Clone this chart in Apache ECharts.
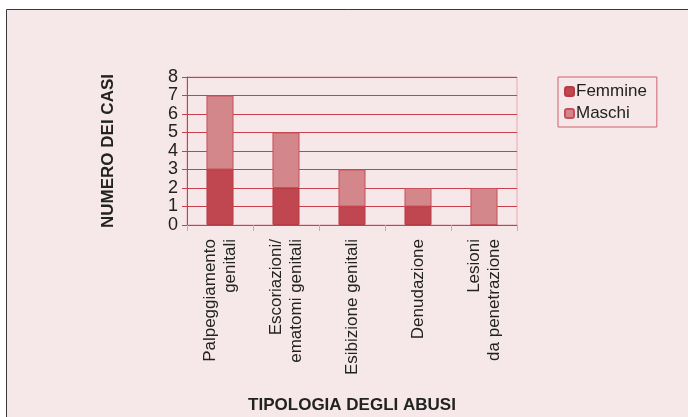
<!DOCTYPE html>
<html>
<head>
<meta charset="utf-8">
<script src="https://cdn.jsdelivr.net/npm/echarts@6/dist/echarts.min.js"></script>
<style>
  body { margin: 0; background: #fff; }
  #main { width: 688px; height: 417px; }
</style>
</head>
<body>
<div id="main"></div>
<script>
// categorie e valori
var categorie = [
  "Palpeggiamento\ngenitali",
  "Escoriazioni/\nematomi genitali",
  "Esibizione genitali",
  "Denudazione",
  "Lesioni\nda penetrazione"
];
var femmine = [3, 2, 1, 1, 0];
var maschi = [4, 3, 2, 1, 2];
var yTicks = { min: 0, max: 8, interval: 1 };

var chart = echarts.init(document.getElementById("main"));

var font = "Liberation Sans, Arial, sans-serif";
var option = {
  backgroundColor: "#fff",
  textStyle: { fontFamily: font },
  graphic: [
    {
      // riquadro rosa con bordo scuro
      type: "rect",
      shape: { x: 6.5, y: 9.5, width: 690, height: 420 },
      style: { fill: "#f6e8e9", stroke: "#3a3a3a", lineWidth: 1 },
      z: -10
    }
  ],
  grid: {
    left: 187, right: 171, top: 77, bottom: 192,
    show: true,
    backgroundColor: "transparent",
    borderColor: "#e8a8b0",
    borderWidth: 1
  },
  legend: {
    orient: "vertical",
    left: 558,
    top: 77,
    width: 105,
    padding: [6, 10, 5, 6],
    itemGap: 5,
    itemWidth: 9,
    itemHeight: 9,
    borderColor: "#d0606a",
    borderWidth: 1,
    textStyle: { fontSize: 17, color: "#222", fontFamily: font, padding: [0, 0, 0, -3] },
    data: ["Femmine", "Maschi"]
  },
  xAxis: {
    type: "category",
    data: categorie,
    name: "TIPOLOGIA DEGLI ABUSI",
    nameLocation: "middle",
    nameGap: 172,
    nameTextStyle: { fontSize: 17, fontWeight: "bold", color: "#222", fontFamily: font },
    axisLine: { lineStyle: { color: "#c8404c", width: 1 } },
    axisTick: { show: true, length: 6, lineStyle: { color: "#e0a0a8" } },
    axisLabel: {
      rotate: 90,
      interval: 0,
      margin: 14,
      fontSize: 17,
      lineHeight: 20,
      color: "#222",
      fontFamily: font
    }
  },
  yAxis: {
    type: "value",
    min: yTicks.min,
    max: yTicks.max,
    interval: yTicks.interval,
    name: "NUMERO DEI CASI",
    nameLocation: "middle",
    nameGap: 70,
    nameTextStyle: { fontSize: 17, fontWeight: "bold", color: "#222", fontFamily: font },
    axisLine: { show: true, lineStyle: { color: "#c8404c", width: 1 } },
    axisTick: { show: true, length: 5, lineStyle: { color: "#c8404c" } },
    axisLabel: {
      fontSize: 18, color: "#222", margin: 9, fontFamily: font,
      showMinLabel: true, showMaxLabel: true
    },
    splitLine: { lineStyle: { color: "#c8404c", width: 1 } }
  },
  series: [
    {
      name: "Femmine",
      type: "bar",
      stack: "casi",
      barWidth: "41%",
      data: femmine,
      itemStyle: { color: "#c0474f", borderColor: "#b83c46", borderWidth: 1 }
    },
    {
      name: "Maschi",
      type: "bar",
      stack: "casi",
      barWidth: "41%",
      data: maschi,
      itemStyle: { color: "#d4878b", borderColor: "#c8505a", borderWidth: 1 }
    }
  ]
};

chart.setOption(option);
</script>
</body>
</html>
